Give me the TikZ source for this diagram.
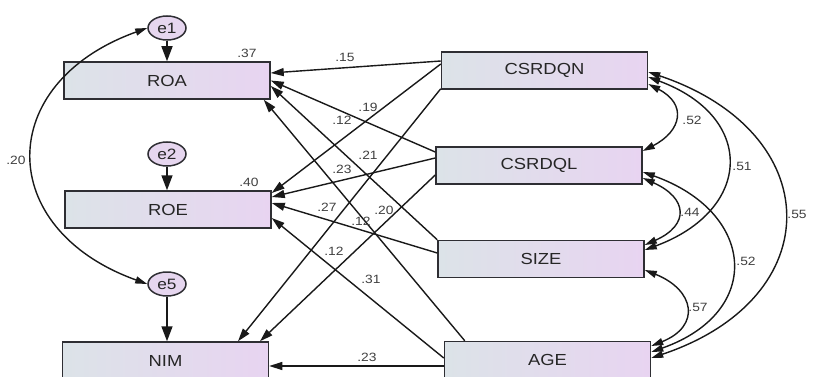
\documentclass[tikz,border=0pt]{standalone}
\usepackage{fontspec}
\setmainfont[FakeStretch=1.15]{Liberation Sans}
\usetikzlibrary{arrows.meta,shapes.geometric}
\definecolor{boxL}{HTML}{DCE3E8}
\definecolor{boxR}{HTML}{E8D4F1}
\definecolor{errF}{HTML}{E6D6EF}
\definecolor{edgeC}{HTML}{2E2E33}
\begin{document}
\begin{tikzpicture}[x=1pt,y=-1pt,
  var/.style={draw=edgeC, line width=1.5pt, left color=boxL, right color=boxR,
    minimum width=206pt, minimum height=37pt, inner sep=0pt,
    font=\fontsize{16}{18}\selectfont, text=black!85},
  err/.style={ellipse, draw=edgeC, line width=1.5pt, fill=errF,
    minimum width=38pt, minimum height=24pt, inner sep=0pt,
    font=\fontsize{15}{16}\selectfont, text=black!85},
  reg/.style={line width=1.4pt, draw=black!90, -{Triangle[length=13pt,width=8pt]}},
  ereg/.style={line width=1.5pt, draw=black!90, -{Triangle[length=15pt,width=11pt]}},
  cov/.style={line width=1.4pt, draw=black!90,
    {Triangle[length=12pt,width=7pt]}-{Triangle[length=12pt,width=7pt]}},
  est/.style={font=\fontsize{12}{13}\selectfont, text=black!75, inner sep=0pt}]
\path[use as bounding box, fill=white] (0,0) rectangle (816,377);

% outcome boxes
\node[var] (ROA) at (167,80.5) {ROA};
\node[var] (ROE) at (168,209.5) {ROE};
\node[var] (NIM) at (165.5,360.5) {NIM};
% predictor boxes
\node[var] (QN) at (544.5,70.5) {CSRDQN};
\node[var] (QL) at (539,165.5) {CSRDQL};
\node[var] (SZ) at (541,259) {SIZE};
\node[var] (AG) at (547.5,360) {AGE};
% error terms
\node[err] (e1) at (167,28) {e1};
\node[err] (e2) at (167,154) {e2};
\node[err] (e5) at (167,284) {e5};

% errors to outcomes
\draw[ereg] (e1.south) -- (e1.south |- ROA.north);
\draw[ereg] (e2.south) -- (e2.south |- ROE.north);
\draw[ereg] (e5.south) -- (e5.south |- NIM.north);
% e1 <-> e5
\draw[cov] (e1.west) .. controls +(-153,55) and +(-153,-55) .. (e5.west);

% regressions
\draw[reg] ([yshift=9.5pt]QN.west) -- ([yshift=7.5pt]ROA.east);
\draw[reg] ([yshift=6.5pt]QN.west) -- ([yshift=16.5pt]ROE.east);
\draw[reg] ([yshift=1pt]QN.south west) -- ([xshift=72.5pt]NIM.north);

\draw[reg] ([yshift=13.5pt]QL.west) -- (ROA.east);
\draw[reg] ([yshift=7.5pt]QL.west) -- ([yshift=12.5pt]ROE.east);
\draw[reg] ([yshift=-9.5pt]QL.west) -- ([xshift=94.5pt]NIM.north);

\draw[reg] (SZ.north west) -- ([yshift=-5.5pt]ROA.east);
\draw[reg] ([yshift=6pt]SZ.west) -- ([yshift=6.5pt]ROE.east);

\draw[reg] ([xshift=21pt]AG.north west) -- ([xshift=-7pt]ROA.south east);
\draw[reg] ([yshift=2pt]AG.west) -- ([yshift=-8.5pt]ROE.east);
\draw[reg] ([yshift=-6pt]AG.west) -- ([yshift=-6pt]AG.west -| NIM.east);

% correlations among predictors
\draw[cov] ([yshift=-13.5pt]QN.east) .. controls +(39,20) and +(39,-20) .. ([yshift=14.5pt]QL.east);
\draw[cov] ([yshift=-6.5pt]QN.east) .. controls +(108,40) and +(108,-40) .. ([yshift=9pt]SZ.east);
\draw[cov] ([yshift=-1.5pt]QN.east) .. controls +(179,60) and +(179,-60) .. ([yshift=2pt]AG.east);
\draw[cov] ([yshift=-12.5pt]QL.east) .. controls +(45,20) and +(45,-20) .. ([yshift=14pt]SZ.east);
\draw[cov] ([yshift=-6.5pt]QL.east) .. controls +(113,40) and +(113,-40) .. ([yshift=8pt]AG.east);
\draw[cov] ([yshift=-11pt]SZ.east) .. controls +(50,20) and +(50,-20) .. ([yshift=14pt]AG.east);

% estimates
\node[est] (r1) at (247,53) {.37};
\node[est] (r2) at (249,182) {.40};
\node[est] (c15) at (16,160) {.20};
\node[est] (b1) at (345,57) {.15};
\node[est] (b2) at (368,107) {.19};
\node[est] (b3) at (342,120) {.12};
\node[est] (b4) at (368,155) {.21};
\node[est] (b5) at (342,169) {.23};
\node[est] (b6) at (327,207) {.27};
\node[est] (b8) at (361,221) {.12};
\node[est] (b7) at (384,210) {.20};
\node[est] (b9) at (334,251) {.12};
\node[est] (b10) at (371,279) {.31};
\node[est] (b11) at (367,357) {.23};
\node[est] (k1) at (692,120) {.52};
\node[est] (k2) at (742,166) {.51};
\node[est] (k3) at (690,212) {.44};
\node[est] (k4) at (797,214) {.55};
\node[est] (k5) at (746,261) {.52};
\node[est] (k6) at (698,307) {.57};
\end{tikzpicture}
\end{document}
